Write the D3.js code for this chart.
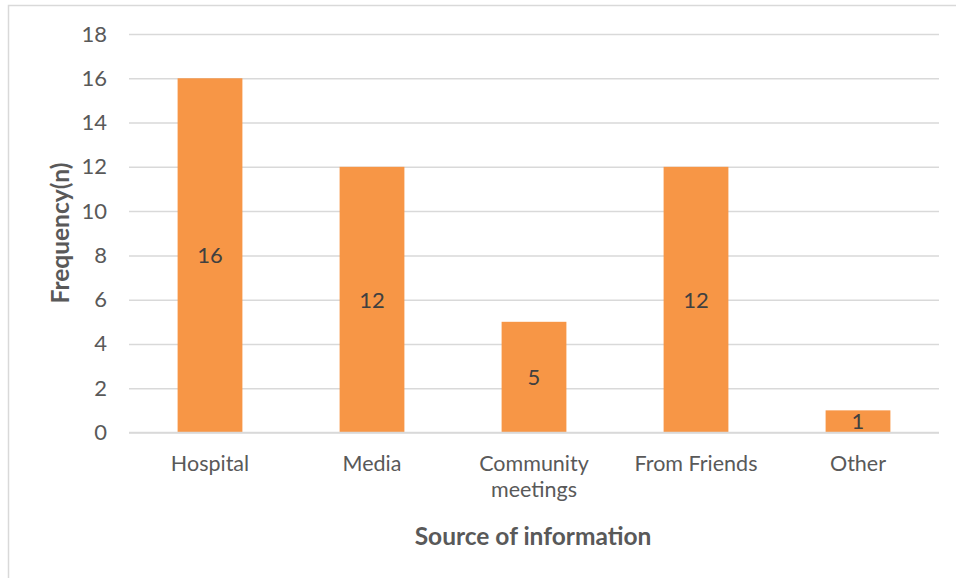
<!DOCTYPE html>
<html>
<head>
<meta charset="utf-8">
<script src="https://cdn.jsdelivr.net/npm/d3@7"></script>
<style>
  html, body { margin: 0; padding: 0; background: #fff; }
  svg { display: block; }
  text { font-family: Lato, "Open Sans", sans-serif; }
</style>
</head>
<body>
<svg id="chart" width="956" height="578"></svg>
<script>
// Source of information vs frequency
const categories = ["Hospital", "Media", "Community meetings", "From Friends", "Other"];
const frequencies = [16, 12, 5, 12, 1];
const yTicks = [0, 2, 4, 6, 8, 10, 12, 14, 16, 18];

const svg = d3.select("#chart");
const W = 956, H = 578;
const plot = { left: 129, right: 939, top: 34, bottom: 432.5 };

// Chart frame
svg.append("rect")
  .attr("x", 8.5).attr("y", 5.5)
  .attr("width", W + 20).attr("height", H + 20)
  .attr("fill", "#fff").attr("stroke", "#d9d9d9").attr("stroke-width", 1.5);

const x = d3.scaleBand().domain(categories)
  .range([plot.left, plot.right]).paddingInner(0.6).paddingOuter(0.3);
const y = d3.scaleLinear().domain([0, 18]).range([plot.bottom, plot.top]);

// Horizontal gridlines + tick labels
const yAxis = d3.axisLeft(y).tickValues(yTicks).tickSize(-(plot.right - plot.left)).tickPadding(22);
const gy = svg.append("g").attr("transform", `translate(${plot.left},0)`).call(yAxis);
gy.select(".domain").remove();
gy.selectAll(".tick line").attr("stroke", "#d9d9d9").attr("stroke-width", 1.5);
gy.selectAll(".tick text")
  .attr("fill", "#595959").style("font-size", "22px").style("font-family", "Lato, sans-serif");

// Bars
svg.append("g").selectAll("rect").data(frequencies).join("rect")
  .attr("x", (d, i) => x(categories[i]))
  .attr("y", d => y(d))
  .attr("width", x.bandwidth())
  .attr("height", d => y(0) - y(d))
  .attr("fill", "#f79646");

// Baseline redrawn over bars
svg.append("line")
  .attr("x1", plot.left).attr("x2", plot.right)
  .attr("y1", y(0)).attr("y2", y(0))
  .attr("stroke", "#d9d9d9").attr("stroke-width", 1.5);

// Value labels centred in bars
svg.append("g").selectAll("text").data(frequencies).join("text")
  .attr("x", (d, i) => x(categories[i]) + x.bandwidth() / 2)
  .attr("y", d => (y(d) + y(0)) / 2)
  .attr("dy", "0.36em")
  .attr("text-anchor", "middle")
  .attr("fill", "#404040")
  .style("font-size", "22px")
  .text(d => d);

// Category labels (wrapped)
const wrapLabel = { "Community meetings": ["Community", "meetings"] };
const catG = svg.append("g");
categories.forEach(c => {
  const lines = wrapLabel[c] || [c];
  const t = catG.append("text")
    .attr("x", x(c) + x.bandwidth() / 2)
    .attr("y", 471)
    .attr("text-anchor", "middle")
    .attr("fill", "#595959")
    .style("font-size", "21.5px");
  lines.forEach((l, k) => {
    t.append("tspan").attr("x", x(c) + x.bandwidth() / 2).attr("dy", k === 0 ? 0 : 26).text(l);
  });
});

// Axis titles
svg.append("text")
  .attr("transform", `translate(60,233) rotate(-90)`)
  .attr("dy", "0.36em")
  .attr("text-anchor", "middle")
  .attr("fill", "#595959")
  .style("font-size", "24.5px").style("font-weight", "bold")
  .text("Frequency(n)");

svg.append("text")
  .attr("x", 533).attr("y", 545)
  .attr("text-anchor", "middle")
  .attr("fill", "#595959")
  .style("font-size", "24.5px").style("font-weight", "bold")
  .text("Source of information");
</script>
</body>
</html>
